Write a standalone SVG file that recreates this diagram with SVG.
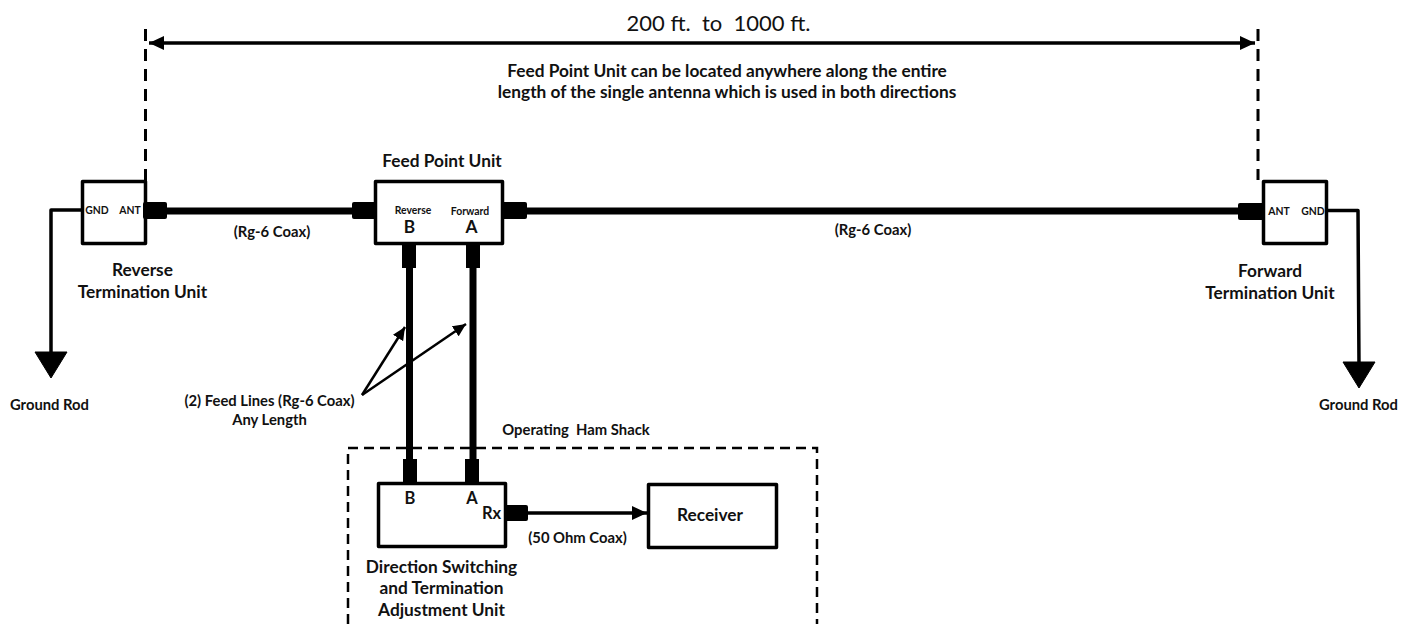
<svg xmlns="http://www.w3.org/2000/svg" width="1416" height="624" viewBox="0 0 1416 624">
<style>
text{font-family:Lato,"Open Sans","Liberation Sans",sans-serif;font-weight:700;fill:#111;text-anchor:middle;font-size:14.8px;white-space:pre}
.big{font-size:17.3px}.med{font-size:16.5px}.sm{font-size:10.4px}.t{font-weight:400;font-size:22px}
.box{fill:#fff;stroke:#000;stroke-width:3.5;stroke-linejoin:round}
.coax{stroke:#000;stroke-width:7;fill:none}
.thin{stroke:#000;stroke-width:3.5;fill:none;stroke-linejoin:round}
.dash{stroke:#000;stroke-width:3;fill:none;stroke-dasharray:12 8}
.dash2{stroke:#000;stroke-width:2.5;fill:none;stroke-dasharray:10 6}
.conn{fill:#000}
</style>
<defs>
<marker id="a" markerUnits="userSpaceOnUse" markerWidth="16" markerHeight="14" refX="15" refY="7" orient="auto-start-reverse"><path d="M0 0L15 7L0 14Z" fill="#000"/></marker>
<marker id="b" markerUnits="userSpaceOnUse" markerWidth="13" markerHeight="12" refX="13" refY="6" orient="auto"><path d="M0 0L13 6L0 12Z" fill="#000"/></marker>
</defs>
<g id="connectors">
<path class="dash" d="M145.500 29V181"/>
<path class="dash" d="M1258 29V180"/>
<path class="thin" d="M149 43H1255" marker-start="url(#a)" marker-end="url(#a)"/>
<path class="dash2" d="M348 624V448H817V624"/>
<path class="coax" d="M165 211H354"/>
<path class="coax" d="M525 211H1240"/>
<path class="coax" d="M409.500 266V461"/>
<path class="coax" d="M473 266V461"/>
<path class="thin" d="M82 210H51V356"/>
<path class="thin" d="M1327 210.500H1358L1359 366"/>
<path d="M35 352H67L51 378Z" fill="#000" stroke="#000" stroke-linejoin="round"/>
<path d="M1343 362H1375L1359 388Z" fill="#000" stroke="#000" stroke-linejoin="round"/>
<path class="thin" d="M528 513H647" marker-end="url(#a)"/>
<path d="M362 395L405 327" stroke="#000" stroke-width="2.500" marker-end="url(#b)"/>
<path d="M362 395L466 324" stroke="#000" stroke-width="2.500" marker-end="url(#b)"/>
</g>
<g id="dimension-label">
<text class="t" x="718.500" y="31">200 ft.  to  1000 ft.</text>
<text class="big" x="727" y="77">Feed Point Unit can be located anywhere along the entire</text>
<text class="big" x="727" y="98">length of the single antenna which is used in both directions</text>
</g>
<g id="reverse-termination">
<rect class="box" x="82.500" y="181.500" width="63" height="62"/>
<rect class="conn" x="143" y="202" width="24" height="17" rx="2"/>
<text class="sm" x="97" y="214">GND</text>
<text class="sm" x="130" y="214">ANT</text>
<text class="big" x="142.500" y="276">Reverse</text>
<text class="big" x="142.500" y="298">Termination Unit</text>
</g>
<g id="ground-left"><text x="49.500" y="410">Ground Rod</text></g>
<g id="feed-point">
<rect class="box" x="375.500" y="181.500" width="127" height="62"/>
<rect class="conn" x="352" y="202" width="25" height="17" rx="2"/>
<rect class="conn" x="501" y="202" width="26" height="17" rx="2"/>
<rect class="conn" x="402" y="243" width="14" height="25"/>
<rect class="conn" x="466" y="243" width="14" height="25"/>
<text class="big" x="442" y="167">Feed Point Unit</text>
<text class="sm" x="413" y="214">Reverse</text>
<text class="sm" x="470" y="215">Forward</text>
<text class="big" x="409.500" y="233">B</text>
<text class="big" x="471.500" y="233">A</text>
</g>
<g id="coax-labels">
<text x="272" y="237">(Rg-6 Coax)</text>
<text x="873" y="235">(Rg-6 Coax)</text>
<text x="269.500" y="406">(2) Feed Lines (Rg-6 Coax)</text>
<text x="269.500" y="425">Any Length</text>
<text x="576" y="435">Operating  Ham Shack</text>
<text x="577.500" y="543">(50 Ohm Coax)</text>
</g>
<g id="direction-switching">
<rect class="box" x="378.500" y="483.500" width="127" height="63"/>
<rect class="conn" x="403" y="459" width="14" height="25"/>
<rect class="conn" x="465" y="459" width="14" height="25"/>
<rect class="conn" x="504" y="505" width="24" height="16" rx="2"/>
<text class="med" x="410" y="504">B</text>
<text class="med" x="472" y="504">A</text>
<text class="med" x="491.500" y="519">Rx</text>
<text class="big" x="441.500" y="573">Direction Switching</text>
<text class="big" x="441.500" y="594">and Termination</text>
<text class="big" x="441.500" y="616">Adjustment Unit</text>
</g>
<g id="receiver">
<rect class="box" x="648.500" y="484.500" width="128" height="63"/>
<text class="big" x="710" y="521">Receiver</text>
</g>
<g id="forward-termination">
<rect class="box" x="1263.500" y="181.500" width="63" height="62"/>
<rect class="conn" x="1238" y="203" width="27" height="17" rx="2"/>
<text class="sm" x="1279" y="215">ANT</text>
<text class="sm" x="1313" y="215">GND</text>
<text class="big" x="1270" y="277">Forward</text>
<text class="big" x="1270" y="299">Termination Unit</text>
</g>
<g id="ground-right"><text x="1358.500" y="410">Ground Rod</text></g>
</svg>
